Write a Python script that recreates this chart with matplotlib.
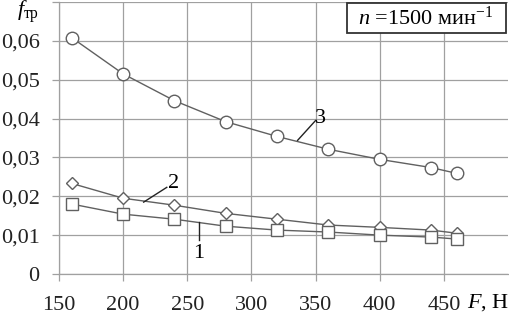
import matplotlib
matplotlib.use("Agg")
from matplotlib import pyplot as plt
from matplotlib.patches import Rectangle

# load F, N
force = [160, 200, 240, 280, 320, 360, 400, 440, 460]
# friction coefficient, curves 1..3
curve_1 = [0.0180, 0.0154, 0.0141, 0.0123, 0.0113, 0.0108, 0.0100, 0.0095, 0.0090]
curve_2 = [0.0233, 0.0195, 0.0177, 0.0156, 0.0141, 0.0126, 0.0120, 0.0113, 0.0105]
curve_3 = [0.0608, 0.0515, 0.0446, 0.0392, 0.0354, 0.0321, 0.0295, 0.0274, 0.0259]

x_ticks = [150, 200, 250, 300, 350, 400, 450]
y_ticks = [0, 0.01, 0.02, 0.03, 0.04, 0.05, 0.06, 0.07]
y_labels = ["0", "0,01", "0,02", "0,03", "0,04", "0,05", "0,06", ""]

plt.rcParams["font.family"] = ["Liberation Serif", "DejaVu Serif"]
plt.rcParams["mathtext.fontset"] = "custom"
plt.rcParams["mathtext.it"] = "Liberation Serif:italic"
plt.rcParams["mathtext.rm"] = "Liberation Serif"

grid_grey = "#a0a0a0"
line_grey = "#606060"
text_col = "#222222"
fs = 16

fig = plt.figure(figsize=(5.09, 3.17), dpi=100)
ax = fig.add_axes([59 / 509, 1 - 274 / 317, 449 / 509, 272 / 317])

ax.plot(force, curve_3, color=line_grey, lw=1.0, marker="o", ms=9,
        mfc="white", mec=line_grey, mew=1.0)
ax.plot(force, curve_2, color=line_grey, lw=1.0, marker="D", ms=6.5,
        mfc="white", mec=line_grey, mew=1.0)
ax.plot(force, curve_1, color=line_grey, lw=1.0, marker="s", ms=8.5,
        mfc="white", mec=line_grey, mew=1.0)

ax.set_xlim(150, 500)
ax.set_ylim(0, 0.07)
ax.set_xticks(x_ticks)
ax.set_yticks(y_ticks)
ax.set_yticklabels(y_labels)
ax.grid(True, color=grid_grey, lw=0.9)
ax.set_axisbelow(True)
for side in ["top", "right"]:
    ax.spines[side].set_visible(False)
for side in ["left", "bottom"]:
    ax.spines[side].set_color(grid_grey)
    ax.spines[side].set_linewidth(0.9)
ax.tick_params(axis="both", colors=grid_grey, length=5, width=0.9,
               labelcolor=text_col, labelsize=fs)
ax.tick_params(axis="x", pad=11)
ax.tick_params(axis="y", pad=9)

# curve numbers with leader lines
ax.plot([336, 350], [0.0344, 0.0395], color=text_col, lw=1.0)
ax.text(354, 0.0400, "3", fontsize=fs, ha="center", va="center")
ax.plot([216, 234], [0.0185, 0.0223], color=text_col, lw=1.0)
ax.text(239, 0.0233, "2", fontsize=fs, ha="center", va="center")
ax.plot([259, 259], [0.0133, 0.0087], color=text_col, lw=1.0)
ax.text(259, 0.0054, "1", fontsize=fs, ha="center", va="center")

# speed box
fig.patches.append(Rectangle((347 / 509, 1 - 33 / 317), 159 / 509, 30 / 317,
                             transform=fig.transFigure, fc="white",
                             ec="#333333", lw=1.3, zorder=5))
fig.text(358 / 509, 1 - 18 / 317, r"$n$ =1500 мин$^{-1}$", fontsize=fs,
         ha="left", va="center", zorder=6)

fig.text(17 / 509, 1 - 12 / 317, r"$f_{\mathrm{тр}}$", fontsize=fs,
         ha="left", va="center")
fig.text(488 / 509, 1 - 303 / 317, r"$F$, Н", fontsize=fs, ha="center",
         va="center")

fig.savefig("out.png", dpi=100)
